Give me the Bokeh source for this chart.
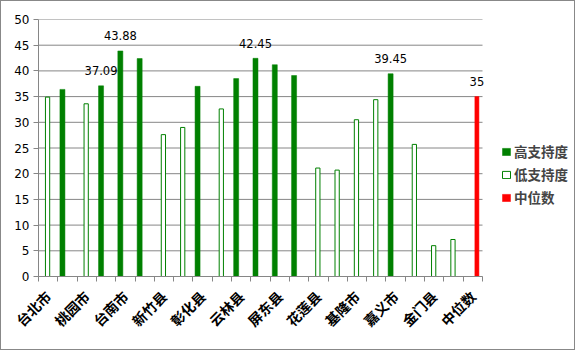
import math
from bokeh.plotting import figure
from bokeh.models import ColumnDataSource, FixedTicker, Range1d, Legend, LegendItem
from bokeh.core.properties import value
from bokeh.embed import file_html
from bokeh.resources import INLINE

categories = ["台北市", "新北市", "桃园市", "台中市", "台南市", "高雄市", "新竹县", "苗栗县",
              "彰化县", "南投县", "云林县", "嘉义县", "屏东县", "宜兰县", "花莲县", "台东县",
              "基隆市", "新竹市", "嘉义市", "澎湖县", "金门县", "连江县", "中位数"]
high = [None, 36.4, None, 37.09, 43.88, 42.4, None, None, 37.0, None, 38.5, 42.45,
        41.2, 39.1, None, None, None, None, 39.45, None, None, None, None]
low = [34.9, None, 33.6, None, None, None, 27.6, 29.0, None, 32.6, None, None,
       None, None, 21.1, 20.7, 30.5, 34.4, None, 25.7, 6.0, 7.2, None]
median = [None] * 22 + [35]
series_names = ["高支持度", "低支持度", "中位数"]
shown_labels = ["台北市", "桃园市", "台南市", "新竹县", "彰化县", "云林县", "屏东县",
                "花莲县", "基隆市", "嘉义市", "金门县", "中位数"]
label_cats = ["台中市", "台南市", "嘉义县", "嘉义市", "中位数"]
label_series = ["high", "high", "high", "high", "median"]
label_vals = [37.09, 43.88, 42.45, 39.45, 35]
label_texts = ["37.09", "43.88", "42.45", "39.45", "35"]
y_ticks = [0, 5, 10, 15, 20, 25, 30, 35, 40, 45, 50]

GREEN = "#008000"
RED = "#ff0000"
GRID = "#868686"
offsets = {"high": -0.26, "low": -0.03, "median": 0.21}

def nan(v):
    return float("nan") if v is None else v

n = len(categories)
x_lo, x_hi = -0.5, n - 0.5
idx = list(range(n))
src = ColumnDataSource(dict(
    xh=[i + offsets["high"] for i in idx], h=[nan(v) for v in high],
    xl=[i + offsets["low"] for i in idx], l=[nan(v) for v in low],
    xm=[i + offsets["median"] for i in idx], m=[nan(v) for v in median],
))

# frame extends into the legend area (537 px wide; 444 px for the 23 categories)
p = figure(width=575, height=350, output_backend="svg", toolbar_location=None,
           x_range=Range1d(x_lo, x_lo + n * 537 / 444), y_range=Range1d(0, 50),
           min_border_left=37, min_border_right=1, min_border_top=18, min_border_bottom=75)
p.styles = {"border": "1px solid #888888"}
p.outline_line_color = None
p.background_fill_color = "white"
p.border_fill_color = "white"

# horizontal gridlines limited to the category area
p.segment(x0=[x_lo] * len(y_ticks), x1=[x_hi] * len(y_ticks), y0=y_ticks, y1=y_ticks,
          line_color=GRID, line_width=1)

rh = p.vbar(x="xh", top="h", bottom=0, width=0.26, source=src,
            fill_color=GREEN, line_color=GREEN, line_width=0.5)
rl = p.vbar(x="xl", top="l", bottom=0, width=0.22, source=src,
            fill_color="white", line_color=GREEN, line_width=1)
rm = p.vbar(x="xm", top="m", bottom=0, width=0.21, source=src,
            fill_color=RED, line_color=RED, line_width=0.5)

# data labels
lx = [categories.index(c) + offsets[s] for c, s in zip(label_cats, label_series)]
p.text(x=lx, y=label_vals, text=label_texts, text_align="center",
       text_baseline="alphabetic", y_offset=-15, text_font_size="11.5px",
       text_color="#000000", text_font=value("DejaVu Sans"))

# x axis
xa = p.xaxis[0]
xa.bounds = (x_lo, x_hi)
label_pos = [categories.index(c) for c in shown_labels]
xa.ticker = FixedTicker(ticks=label_pos,
                        minor_ticks=[i - 0.5 for i in range(n + 1)])
xa.major_label_overrides = {i: categories[i] for i in label_pos}
xa.major_label_orientation = math.pi / 4
xa.major_tick_out = 0
xa.major_tick_in = 0
xa.minor_tick_out = 5
xa.minor_tick_in = 0
xa.minor_tick_line_color = GRID
xa.axis_line_color = GRID
xa.major_label_standoff = 12
xa.major_label_text_font = "Noto Sans CJK SC"
xa.major_label_text_font_style = "bold"
xa.major_label_text_font_size = "14px"
xa.major_label_text_color = "#000000"

# y axis
ya = p.yaxis[0]
ya.ticker = FixedTicker(ticks=y_ticks, minor_ticks=[])
ya.major_tick_out = 5
ya.major_tick_in = 0
ya.major_tick_line_color = GRID
ya.axis_line_color = GRID
ya.major_label_standoff = 4
ya.major_label_text_font = "DejaVu Sans"
ya.major_label_text_font_size = "12px"
ya.major_label_text_color = "#000000"

p.xgrid.visible = False
p.ygrid.visible = False

legend = Legend(items=[LegendItem(label=series_names[0], renderers=[rh]),
                       LegendItem(label=series_names[1], renderers=[rl]),
                       LegendItem(label=series_names[2], renderers=[rm])],
                location=(463, 69), margin=0, padding=0,
                border_line_color=None, background_fill_alpha=0,
                glyph_width=10, glyph_height=9, label_standoff=3, spacing=3,
                label_text_font="Noto Sans CJK SC", label_text_font_style="bold",
                label_text_font_size="13.5px", label_height=14)
p.add_layout(legend, "center")

open("out.html", "w").write(file_html(p, INLINE))
